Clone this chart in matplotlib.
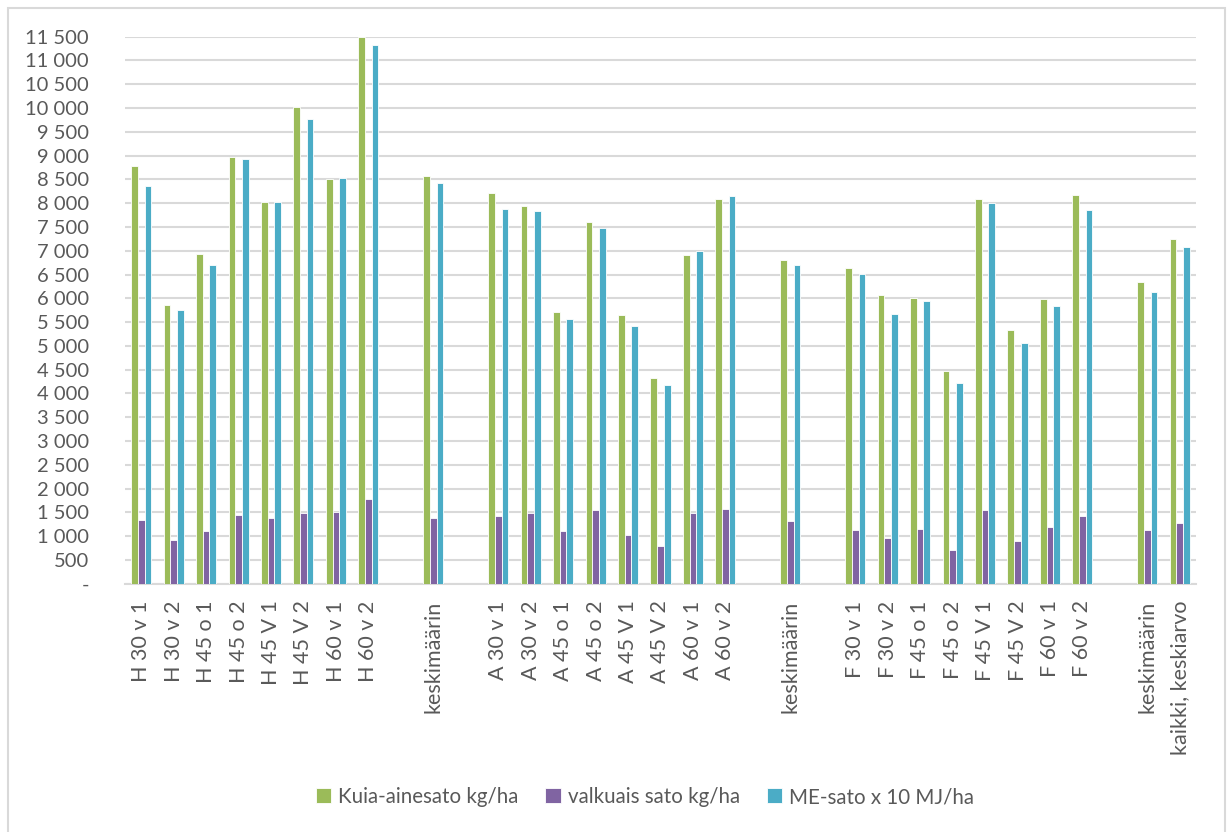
import numpy as np
import matplotlib
matplotlib.use("Agg")
import matplotlib.pyplot as plt
from matplotlib.patches import Rectangle
from matplotlib.ticker import FuncFormatter, MultipleLocator

plt.rcParams["font.family"] = ["Lato", "DejaVu Sans"]

# categories ("" = empty gap slot)
categories = [
    "H 30 v 1", "H 30 v 2", "H 45 o 1", "H 45 o 2", "H 45 V 1", "H 45 V 2", "H 60 v 1", "H 60 v 2",
    "", "keskimäärin", "",
    "A 30 v 1", "A 30 v 2", "A 45 o 1", "A 45 o 2", "A 45 V 1", "A 45 V 2", "A 60 v 1", "A 60 v 2",
    "", "keskimäärin", "",
    "F 30 v 1", "F 30 v 2", "F 45 o 1", "F 45 o 2", "F 45 V 1", "F 45 V 2", "F 60 v 1", "F 60 v 2",
    "", "keskimäärin", "kaikki, keskiarvo",
]

kuiva = [8780, 5860, 6930, 8970, 8030, 10020, 8500, 11490,
         np.nan, 8570, np.nan,
         8220, 7950, 5720, 7600, 5640, 4330, 6920, 8080,
         np.nan, 6810, np.nan,
         6630, 6070, 6000, 4480, 8090, 5330, 5980, 8180,
         np.nan, 6340, 7240]

valkuais = [1330, 920, 1100, 1450, 1380, 1490, 1510, 1780,
            np.nan, 1380, np.nan,
            1430, 1490, 1110, 1560, 1020, 800, 1490, 1570,
            np.nan, 1320, np.nan,
            1120, 960, 1150, 700, 1560, 890, 1190, 1430,
            np.nan, 1130, 1270]

me_sato = [8360, 5750, 6690, 8930, 8020, 9780, 8530, 11320,
           np.nan, 8420, np.nan,
           7880, 7830, 5560, 7480, 5420, 4180, 6990, 8160,
           np.nan, 6690, np.nan,
           6520, 5670, 5940, 4210, 8000, 5070, 5840, 7860,
           np.nan, 6130, 7080]

series = [
    ("Kuia-ainesato kg/ha", kuiva, "#9BBB59"),
    ("valkuais sato kg/ha", valkuais, "#8064A2"),
    ("ME-sato x 10 MJ/ha", me_sato, "#4BACC6"),
]

text_color = "#595959"
grid_color = "#D9D9D9"

fig = plt.figure(figsize=(12.31, 8.32), dpi=100)
ax = fig.add_axes([0.1015, 0.2984, 0.8701, 0.6575])

x = np.arange(len(categories))
w = 0.206
for i, (name, vals, col) in enumerate(series):
    ax.bar(x + (i - 1) * w, vals, w, color=col, edgecolor="white",
           linewidth=0.6, label=name, zorder=3)

ax.set_xlim(-0.5, len(categories) - 0.5)
ax.set_ylim(0, 11500)
ax.yaxis.set_major_locator(MultipleLocator(500))


def fmt(v, pos):
    if v == 0:
        return "-"
    return f"{int(v):,}".replace(",", " ")


ax.yaxis.set_major_formatter(FuncFormatter(fmt))
ax.grid(axis="y", color=grid_color, linewidth=1.5, zorder=0)
ax.set_axisbelow(True)

for s in ["left", "right", "top"]:
    ax.spines[s].set_visible(False)
ax.spines["bottom"].set_color(grid_color)
ax.spines["bottom"].set_linewidth(1.5)

ax.set_xticks(x)
ax.set_xticklabels(categories, rotation=90, fontsize=15.5, color=text_color)
ax.tick_params(axis="x", length=0, pad=12)
ax.tick_params(axis="y", length=0, labelsize=14.5, labelcolor=text_color, pad=26)

leg = fig.legend(loc="center", bbox_to_anchor=(0.524, 0.042), ncol=3, frameon=False,
                 fontsize=14.8, handlelength=0.75, handleheight=0.75,
                 handletextpad=0.35, columnspacing=1.3)
for t in leg.get_texts():
    t.set_color(text_color)

# chart area border
fig.patches.append(Rectangle((8 / 1231, -0.05), 1217 / 1231, 1.05 - 7.5 / 832,
                             transform=fig.transFigure, fill=False,
                             edgecolor=grid_color, linewidth=1.5))

fig.savefig("out.png", dpi=100)
